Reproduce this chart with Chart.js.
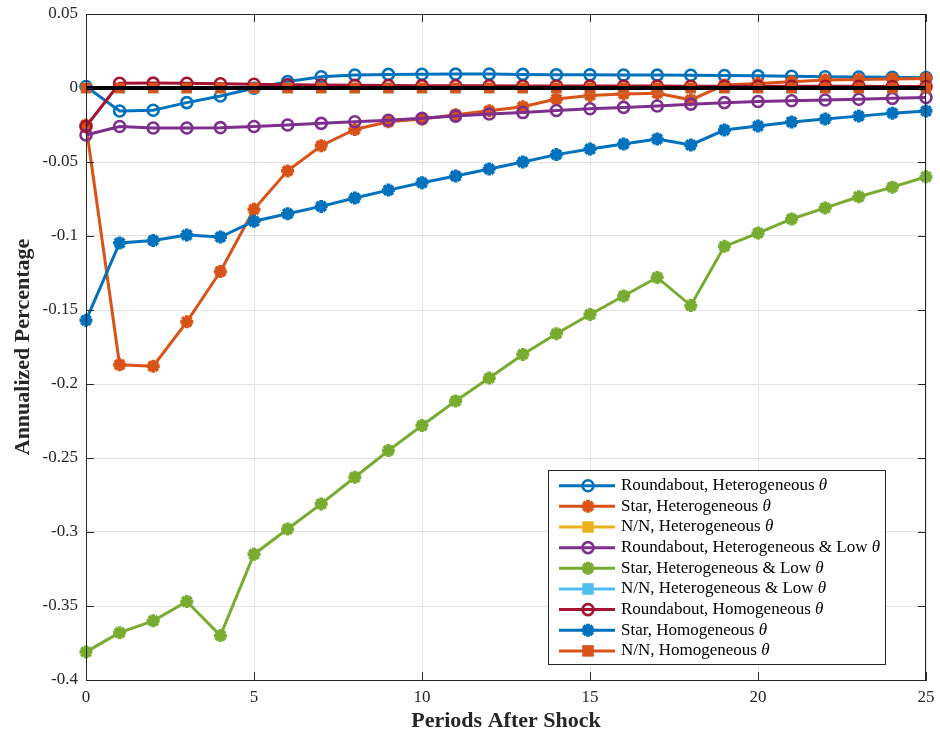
<!DOCTYPE html>
<html>
<head>
<meta charset="utf-8">
<script src="https://cdn.jsdelivr.net/npm/chart.js@4.4.1/dist/chart.umd.min.js"></script>
<style>
  html, body { margin: 0; padding: 0; background: #fff; }
  #wrap { width: 940px; height: 736px; }
</style>
</head>
<body>
<div id="wrap"><canvas id="chart" width="940" height="736"></canvas></div>
<script>
const periods = [0, 1, 2, 3, 4, 5, 6, 7, 8, 9, 10, 11, 12, 13, 14, 15, 16, 17, 18, 19, 20, 21, 22, 23, 24, 25];

const roundaboutHet = [0.001, -0.0155, -0.015, -0.0099, -0.0054, -0.0002, 0.0043, 0.0076, 0.0088, 0.0092, 0.0093, 0.0094, 0.0094, 0.0092, 0.009, 0.0089, 0.0088, 0.0087, 0.0086, 0.0084, 0.0082, 0.0079, 0.0076, 0.0074, 0.0072, 0.007];
const starHet = [-0.025, -0.187, -0.188, -0.158, -0.124, -0.082, -0.056, -0.039, -0.028, -0.0228, -0.021, -0.018, -0.0153, -0.0126, -0.0075, -0.005, -0.004, -0.0035, -0.008, 0.002, 0.003, 0.0043, 0.0054, 0.0058, 0.0061, 0.0065];
const nnHet = [0, 0, 0, 0, 0, 0, 0, 0, 0, 0, 0, 0, 0, 0, 0, 0, 0, 0, 0, 0, 0, 0, 0, 0, 0, 0];
const roundaboutLow = [-0.0318, -0.026, -0.027, -0.027, -0.0268, -0.026, -0.025, -0.0239, -0.0228, -0.0218, -0.0205, -0.019, -0.0176, -0.0166, -0.0152, -0.014, -0.0131, -0.0122, -0.0109, -0.0099, -0.0091, -0.0086, -0.0081, -0.0076, -0.007, -0.0064];
const starLow = [-0.381, -0.368, -0.36, -0.347, -0.37, -0.315, -0.298, -0.281, -0.263, -0.245, -0.228, -0.2115, -0.196, -0.18, -0.166, -0.153, -0.1405, -0.128, -0.147, -0.107, -0.098, -0.0885, -0.081, -0.0735, -0.067, -0.06];
const nnLow = [0, 0, 0, 0, 0, 0, 0, 0, 0, 0, 0, 0, 0, 0, 0, 0, 0, 0, 0, 0, 0, 0, 0, 0, 0, 0];
const roundaboutHom = [-0.026, 0.0032, 0.0033, 0.0032, 0.0029, 0.0025, 0.0022, 0.002, 0.0018, 0.0017, 0.0016, 0.0015, 0.0015, 0.0014, 0.0014, 0.0013, 0.0013, 0.0013, 0.0012, 0.0012, 0.0012, 0.0011, 0.0011, 0.0011, 0.001, 0.001];
const starHom = [-0.157, -0.1047, -0.103, -0.0993, -0.1007, -0.09, -0.085, -0.08, -0.0743, -0.069, -0.064, -0.0595, -0.0547, -0.05, -0.045, -0.0412, -0.0378, -0.0345, -0.0385, -0.0284, -0.0257, -0.023, -0.021, -0.019, -0.017, -0.0155];
const nnHom = [0, 0, 0, 0, 0, 0, 0, 0, 0, 0, 0, 0, 0, 0, 0, 0, 0, 0, 0, 0, 0, 0, 0, 0, 0, 0];
const zeroLine = [0, 0, 0, 0, 0, 0, 0, 0, 0, 0, 0, 0, 0, 0, 0, 0, 0, 0, 0, 0, 0, 0, 0, 0, 0, 0];

const seriesLabels = [
  "Roundabout, Heterogeneous θ",
  "Star, Heterogeneous θ",
  "N/N, Heterogeneous θ",
  "Roundabout, Heterogeneous & Low θ",
  "Star, Heterogeneous & Low θ",
  "N/N, Heterogeneous & Low θ",
  "Roundabout, Homogeneous θ",
  "Star, Homogeneous θ",
  "N/N, Homogeneous θ",
];
const seriesValues = [roundaboutHet, starHet, nnHet, roundaboutLow, starLow, nnLow, roundaboutHom, starHom, nnHom];
const seriesColors = ["#0072BD", "#D95319", "#EDB120", "#7E2F8E", "#77AC30", "#4DBEEE", "#A2142F", "#0072BD", "#D95319"];
const seriesMarkers = ["circle", "star", "rect", "circle", "star", "rect", "circle", "star", "rect"];

const xTicks = [0, 5, 10, 15, 20, 25];
const yMin = -0.4, yMax = 0.05, yStep = 0.05;

const FONT = "'Liberation Serif', 'Times New Roman', serif";
const AXIS = "#262626";

const toPoints = (vals) => vals.map((v, i) => ({ x: periods[i], y: v }));

function markerStyle(m, color) {
  if (m === "circle") return { pointStyle: "circle", pointRadius: 5.5, pointBorderWidth: 2.6, pointBackgroundColor: "rgba(0,0,0,0)" };
  if (m === "star") return { pointStyle: "star", pointRadius: 6.5, pointBorderWidth: 3.8, pointBackgroundColor: color };
  return { pointStyle: "rect", pointRadius: 5.5, pointBorderWidth: 2.5, pointBackgroundColor: color };
}

const datasets = seriesValues.map((vals, i) => ({
  label: seriesLabels[i],
  data: toPoints(vals),
  borderColor: seriesColors[i],
  pointBorderColor: seriesColors[i],
  borderWidth: 3,
  tension: 0,
  clip: false,
  order: 20 - i,
  ...markerStyle(seriesMarkers[i], seriesColors[i]),
}));

datasets.push({
  label: "zero",
  data: toPoints(zeroLine),
  borderColor: "#000000",
  borderWidth: 4,
  pointRadius: 0,
  clip: false,
  order: 0,
});

// draws one legend/marker glyph in the matlab style
function drawMarker(ctx, m, color, x, y) {
  ctx.save();
  ctx.strokeStyle = color;
  ctx.fillStyle = color;
  if (m === "circle") {
    ctx.lineWidth = 2.6;
    ctx.beginPath();
    ctx.arc(x, y, 5.5, 0, Math.PI * 2);
    ctx.stroke();
  } else if (m === "star") {
    ctx.lineWidth = 3.8;
    const r = 6.5;
    ctx.beginPath();
    for (let k = 0; k < 4; k++) {
      const a = (k * Math.PI) / 4;
      ctx.moveTo(x - r * Math.cos(a), y - r * Math.sin(a));
      ctx.lineTo(x + r * Math.cos(a), y + r * Math.sin(a));
    }
    ctx.stroke();
  } else {
    ctx.lineWidth = 2.5;
    ctx.fillRect(x - 4.5, y - 4.5, 9, 9);
    ctx.strokeRect(x - 4.5, y - 4.5, 9, 9);
  }
  ctx.restore();
}

const frameAndLegend = {
  id: "frameAndLegend",
  afterDraw(chart) {
    const { ctx, chartArea: a, scales } = chart;
    ctx.save();
    // box + inner ticks
    ctx.strokeStyle = AXIS;
    ctx.lineWidth = 1;
    ctx.strokeRect(a.left + 0.5, a.top + 0.5, a.right - a.left - 1, a.bottom - a.top);
    const tl = 8;
    ctx.beginPath();
    scales.y.ticks.forEach((t) => {
      const py = Math.round(scales.y.getPixelForValue(t.value)) + 0.5;
      ctx.moveTo(a.left, py); ctx.lineTo(a.left + tl, py);
      ctx.moveTo(a.right, py); ctx.lineTo(a.right - tl, py);
    });
    scales.x.ticks.forEach((t) => {
      const px = Math.round(scales.x.getPixelForValue(t.value)) + 0.5;
      ctx.moveTo(px, a.bottom); ctx.lineTo(px, a.bottom - tl);
      ctx.moveTo(px, a.top); ctx.lineTo(px, a.top + tl);
    });
    ctx.stroke();

    // legend
    const lx = 548, ly = 470, lw = 337, lh = 194;
    ctx.fillStyle = "#ffffff";
    ctx.fillRect(lx, ly, lw, lh);
    ctx.strokeStyle = AXIS;
    ctx.strokeRect(lx + 0.5, ly + 0.5, lw, lh);
    const rowH = 20.65;
    seriesLabels.forEach((lab, i) => {
      const y = ly + 15.7 + i * rowH;
      ctx.strokeStyle = seriesColors[i];
      ctx.lineWidth = 3;
      ctx.beginPath();
      ctx.moveTo(559, y);
      ctx.lineTo(615, y);
      ctx.stroke();
      drawMarker(ctx, seriesMarkers[i], seriesColors[i], 588, y);
      const base = lab.slice(0, -1);
      ctx.fillStyle = "#000000";
      ctx.textBaseline = "middle";
      ctx.textAlign = "left";
      ctx.font = "17px " + FONT;
      ctx.fillText(base, 621, y);
      const w = ctx.measureText(base).width;
      ctx.font = "italic 17px " + FONT;
      ctx.fillText("θ", 621 + w, y);
    });
    ctx.restore();
  },
};

new Chart(document.getElementById("chart"), {
  type: "line",
  data: { datasets },
  plugins: [frameAndLegend],
  options: {
    responsive: false,
    animation: false,
    layout: { padding: { top: 14, right: 14, left: 0, bottom: 0 } },
    plugins: { legend: { display: false }, tooltip: { enabled: false } },
    scales: {
      x: {
        type: "linear",
        min: 0,
        max: 25,
        afterBuildTicks: (s) => { s.ticks = xTicks.map((v) => ({ value: v })); },
        afterFit: (s) => { s.height = 56; s.paddingRight = 0; s.paddingLeft = 0; },
        grid: { color: "#e3e3e3", drawTicks: false },
        border: { color: AXIS, width: 1 },
        ticks: { color: AXIS, font: { family: FONT, size: 17 }, padding: 7, maxRotation: 0 },
        title: { display: true, text: "Periods After Shock", color: AXIS, font: { family: FONT, size: 22, weight: "bold" }, padding: { top: 2, bottom: 1 } },
      },
      y: {
        min: yMin,
        max: yMax,
        ticks: {
          stepSize: yStep,
          color: AXIS,
          font: { family: FONT, size: 17 },
          padding: 8,
          callback: (v) => String(parseFloat(Number(v).toFixed(2))),
        },
        afterFit: (s) => { s.width = 86; s.paddingTop = 0; s.paddingBottom = 0; },
        grid: { color: "#e3e3e3", drawTicks: false },
        border: { color: AXIS, width: 1 },
        title: { display: true, text: "Annualized Percentage", color: AXIS, font: { family: FONT, size: 22, weight: "bold" }, padding: { top: 10, bottom: 0 } },
      },
    },
  },
});
</script>
</body>
</html>
